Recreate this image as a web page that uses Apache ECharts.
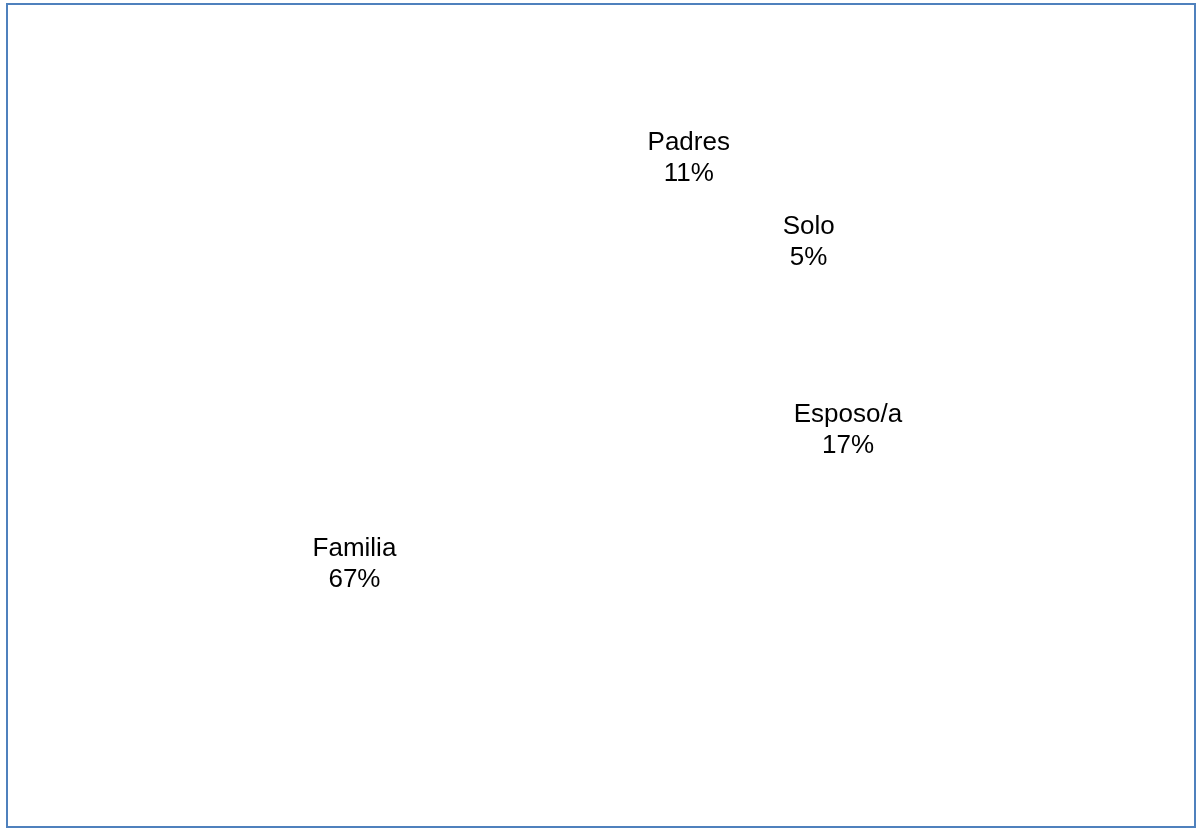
<!DOCTYPE html>
<html>
<head>
<meta charset="utf-8">
<script src="https://cdn.jsdelivr.net/npm/echarts@6/dist/echarts.min.js"></script>
<style>
html,body{margin:0;padding:0;background:#fff;}
#chart{width:1197px;height:828px;}
</style>
</head>
<body>
<div id="chart"></div>
<script>
// datos del grafico
var categorias = ['Padres', 'Solo', 'Esposo/a', 'Familia'];
var valores = [11, 5, 17, 67];

var chart = echarts.init(document.getElementById('chart'));

// las porciones pequeñas llevan la etiqueta mas afuera (como en Excel)
var limite = 15;
function datosSerie(grandes) {
	var d = [];
	for (var i = 0; i < categorias.length; i++) {
		var esGrande = valores[i] >= limite;
		d.push({
			name: categorias[i],
			value: valores[i],
			label: { show: esGrande === grandes }
		});
	}
	return d;
}

var etiqueta = {
	position: 'inside',
	formatter: '{b}\n{c}%',
	color: '#000000',
	fontFamily: 'Liberation Sans, Arial, sans-serif',
	fontSize: 26,
	lineHeight: 31,
	align: 'center'
};

var base = {
	type: 'pie',
	center: [584, 434],
	startAngle: 89,
	clockwise: true,
	silent: true,
	itemStyle: { color: '#ffffff', borderWidth: 0 },
	labelLine: { show: false },
	emphasis: { disabled: true }
};

var option = {
	animation: false,
	backgroundColor: '#ffffff',
	graphic: [{
		type: 'rect',
		z: 100,
		shape: { x: 7, y: 4, width: 1188, height: 823 },
		style: { fill: 'none', stroke: '#4f81bd', lineWidth: 2 },
		silent: true
	}],
	series: [
		echarts.util.merge({ radius: [124, 398], label: etiqueta, data: datosSerie(true) }, base),
		echarts.util.merge({ radius: [186, 398], label: etiqueta, data: datosSerie(false) }, base)
	]
};
chart.setOption(option);
</script>
</body>
</html>
